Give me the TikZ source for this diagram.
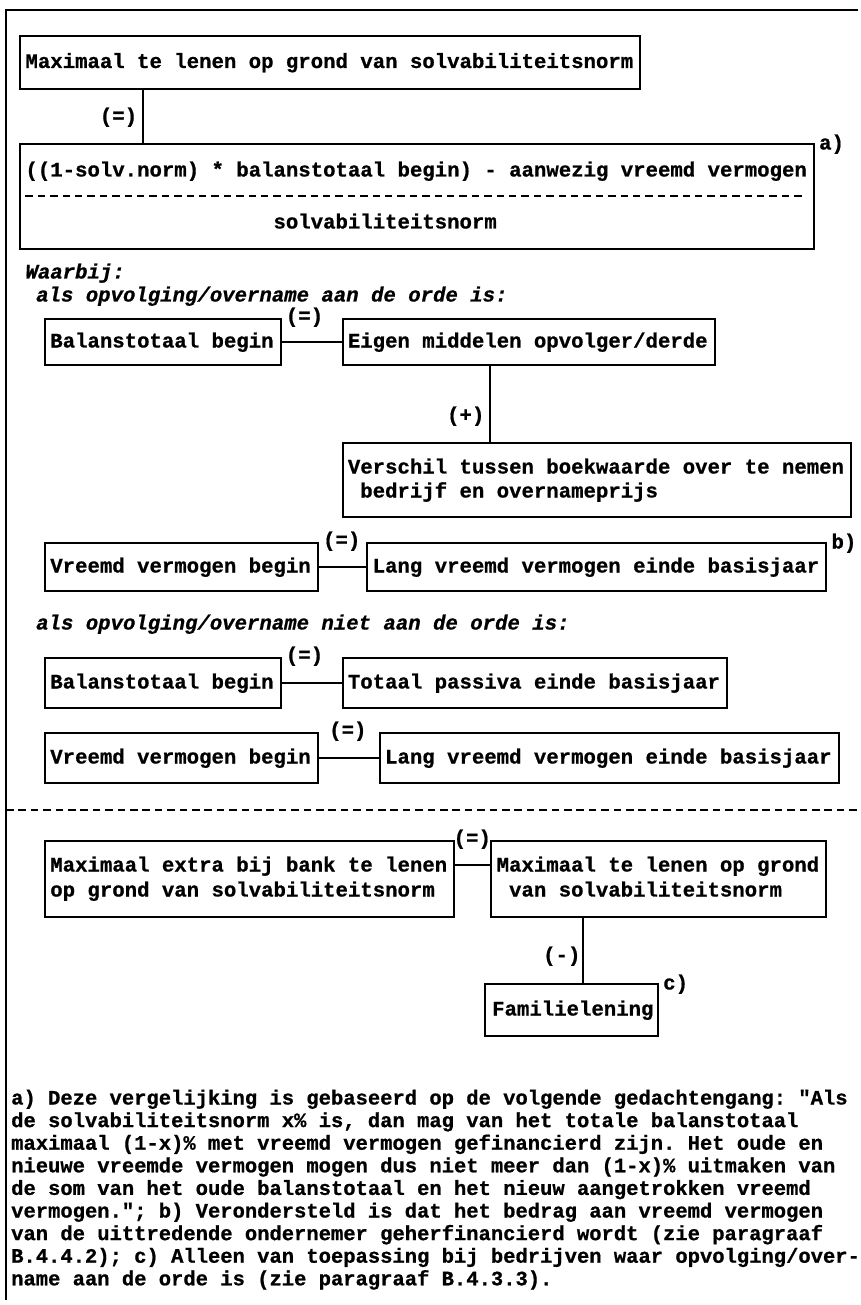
\documentclass[tikz,border=0pt]{standalone}
\usepackage{fontspec}
\setmonofont{Liberation Mono}[BoldFeatures={FakeBold=0.8}, BoldItalicFeatures={FakeBold=0.8}]
\begin{document}
\begin{tikzpicture}[x=1pt,y=-1pt,
  rule/.style={line width=2pt},
  frame/.style={draw, line width=2pt, inner sep=0pt, anchor=north west},
  txt/.style={anchor=base west, inner sep=0pt, font=\fontsize{20.67}{24}\selectfont\ttfamily\bfseries},
  itxt/.style={anchor=base west, inner sep=0pt, font=\fontsize{20.67}{24}\selectfont\ttfamily\bfseries\itshape},
  note/.style={anchor=base west, inner sep=0pt, font=\fontsize{20.5}{22.6}\selectfont\ttfamily\bfseries},
  sep/.style={line width=2pt, dash pattern=on 7.5pt off 4.9pt}]
\useasboundingbox (0,0) rectangle (861,1305);

% outer frame: top rule and left rule
\coordinate (o1) at (6,10);
\coordinate (o2) at (858,10);
\coordinate (o3) at (6,1300);
\draw[rule] (o2) -- (o1) -- (o3);

% ---------- main formula ----------
\node[frame, minimum width=620pt, minimum height=53pt] (b1) at (19.1,35) {};
\node[txt] (b1t) at (25.3,68) {Maximaal te lenen op grond van solvabiliteitsnorm};

\node[frame, minimum width=793.6pt, minimum height=105pt] (b2) at (19.1,143) {};
\node[txt] (num) at (25.3,176.5) {((1-solv.norm) * balanstotaal begin) - aanwezig vreemd vermogen};
\coordinate (d1) at (25.3,196);
\coordinate (d2) at (806,196);
\draw[sep] (d1) -- (d2);
\node[txt] (den) at (273.3,228.5) {solvabiliteitsnorm};
\node[txt] (la) at (818.9,149.5) {a)};

\coordinate (c1) at (143.1,0);
\draw[rule] (c1 |- b1.south) -- (c1 |- b2.north);
\node[txt] (eq1) at (99.7,122.5) {(=)};

% ---------- Waarbij ----------
\node[itxt] (wb) at (25.3,278.5) {Waarbij:};
\node[itxt] (h1) at (36,301.5) {als opvolging/overname aan de orde is:};

\node[frame, minimum width=235.6pt, minimum height=46pt] (balA) at (43.9,318) {};
\node[txt] (balAt) at (50.1,347.5) {Balanstotaal begin};
\node[frame, minimum width=372pt, minimum height=46pt] (eigA) at (341.5,318) {};
\node[txt] (eigAt) at (347.7,347.5) {Eigen middelen opvolger/derde};
\draw[rule] (balA.east) -- (eigA.west);
\node[txt] (eq2) at (285.7,322.5) {(=)};

\node[frame, minimum width=508.4pt, minimum height=74pt] (ver) at (341.5,442) {};
\node[txt] (vert1) at (347.7,473.5) {Verschil tussen boekwaarde over te nemen};
\node[txt] (vert2) at (360.1,497.5) {bedrijf en overnameprijs};
\coordinate (c2) at (490.3,0);
\draw[rule] (c2 |- eigA.south) -- (c2 |- ver.north);
\node[txt] (pl) at (446.9,421.5) {(+)};

\node[frame, minimum width=272.8pt, minimum height=48pt] (vreA) at (43.9,542) {};
\node[txt] (vreAt) at (50.1,572.5) {Vreemd vermogen begin};
\node[frame, minimum width=458.8pt, minimum height=48pt] (langA) at (366.3,542) {};
\node[txt] (langAt) at (372.5,572.5) {Lang vreemd vermogen einde basisjaar};
\draw[rule] (vreA.east) -- (langA.west);
\node[txt] (eq3) at (322.9,546.5) {(=)};
\node[txt] (lb) at (831.3,548.5) {b)};

% ---------- no succession ----------
\node[itxt] (h2) at (36,629.5) {als opvolging/overname niet aan de orde is:};

\node[frame, minimum width=235.6pt, minimum height=50pt] (bal2) at (43.9,657) {};
\node[txt] (bal2t) at (50.1,688.5) {Balanstotaal begin};
\node[frame, minimum width=384.4pt, minimum height=50pt] (tot2) at (341.5,657) {};
\node[txt] (tot2t) at (347.7,688.5) {Totaal passiva einde basisjaar};
\draw[rule] (bal2.east) -- (tot2.west);
\node[txt] (eq4) at (285.7,661.5) {(=)};

\node[frame, minimum width=272.8pt, minimum height=50pt] (vre2) at (43.9,732) {};
\node[txt] (vre2t) at (50.1,763.5) {Vreemd vermogen begin};
\node[frame, minimum width=458.8pt, minimum height=50pt] (lang2) at (378.7,732) {};
\node[txt] (lang2t) at (384.9,763.5) {Lang vreemd vermogen einde basisjaar};
\draw[rule] (vre2.east) -- (lang2.west);
\node[txt] (eq5) at (329,736.5) {(=)};

% separator
\coordinate (s1) at (6,810);
\coordinate (s2) at (858,810);
\draw[sep] (s1) -- (s2);

% ---------- extra loan ----------
\node[frame, minimum width=409.2pt, minimum height=76pt] (maxA) at (43.9,840) {};
\node[txt] (maxAt1) at (50.1,871.5) {Maximaal extra bij bank te lenen};
\node[txt] (maxAt2) at (50.1,896.5) {op grond van solvabiliteitsnorm};
\node[frame, minimum width=334.8pt, minimum height=76pt] (maxB) at (490.3,840) {};
\node[txt] (maxBt1) at (496.5,871.5) {Maximaal te lenen op grond};
\node[txt] (maxBt2) at (508.9,896.5) {van solvabiliteitsnorm};
\coordinate (r1) at (0,865);
\draw[rule] (maxA.east |- r1) -- (maxB.west |- r1);
\node[txt] (eq6) at (453.5,844.5) {(=)};

\node[frame, minimum width=173pt, minimum height=52pt] (fam) at (484,983) {};
\node[txt] (famt) at (492,1015.5) {Familielening};
\coordinate (c3) at (583,0);
\draw[rule] (c3 |- maxB.south) -- (c3 |- fam.north);
\node[txt] (mi) at (543,961.5) {(-)};
\node[txt] (lc) at (663,989.5) {c)};

% ---------- notes ----------
\node[note] (n1) at (11,1104.5) {a) Deze vergelijking is gebaseerd op de volgende gedachtengang: "Als};
\node[note] (n2) at (11,1127.1) {de solvabiliteitsnorm x\% is, dan mag van het totale balanstotaal};
\node[note] (n3) at (11,1149.7) {maximaal (1-x)\% met vreemd vermogen gefinancierd zijn. Het oude en};
\node[note] (n4) at (11,1172.3) {nieuwe vreemde vermogen mogen dus niet meer dan (1-x)\% uitmaken van};
\node[note] (n5) at (11,1194.9) {de som van het oude balanstotaal en het nieuw aangetrokken vreemd};
\node[note] (n6) at (11,1217.5) {vermogen."; b) Verondersteld is dat het bedrag aan vreemd vermogen};
\node[note] (n7) at (11,1240.1) {van de uittredende ondernemer geherfinancierd wordt (zie paragraaf};
\node[note] (n8) at (11,1262.7) {B.4.4.2); c) Alleen van toepassing bij bedrijven waar opvolging/over-};
\node[note] (n9) at (11,1285.3) {name aan de orde is (zie paragraaf B.4.3.3).};
\end{tikzpicture}
\end{document}
